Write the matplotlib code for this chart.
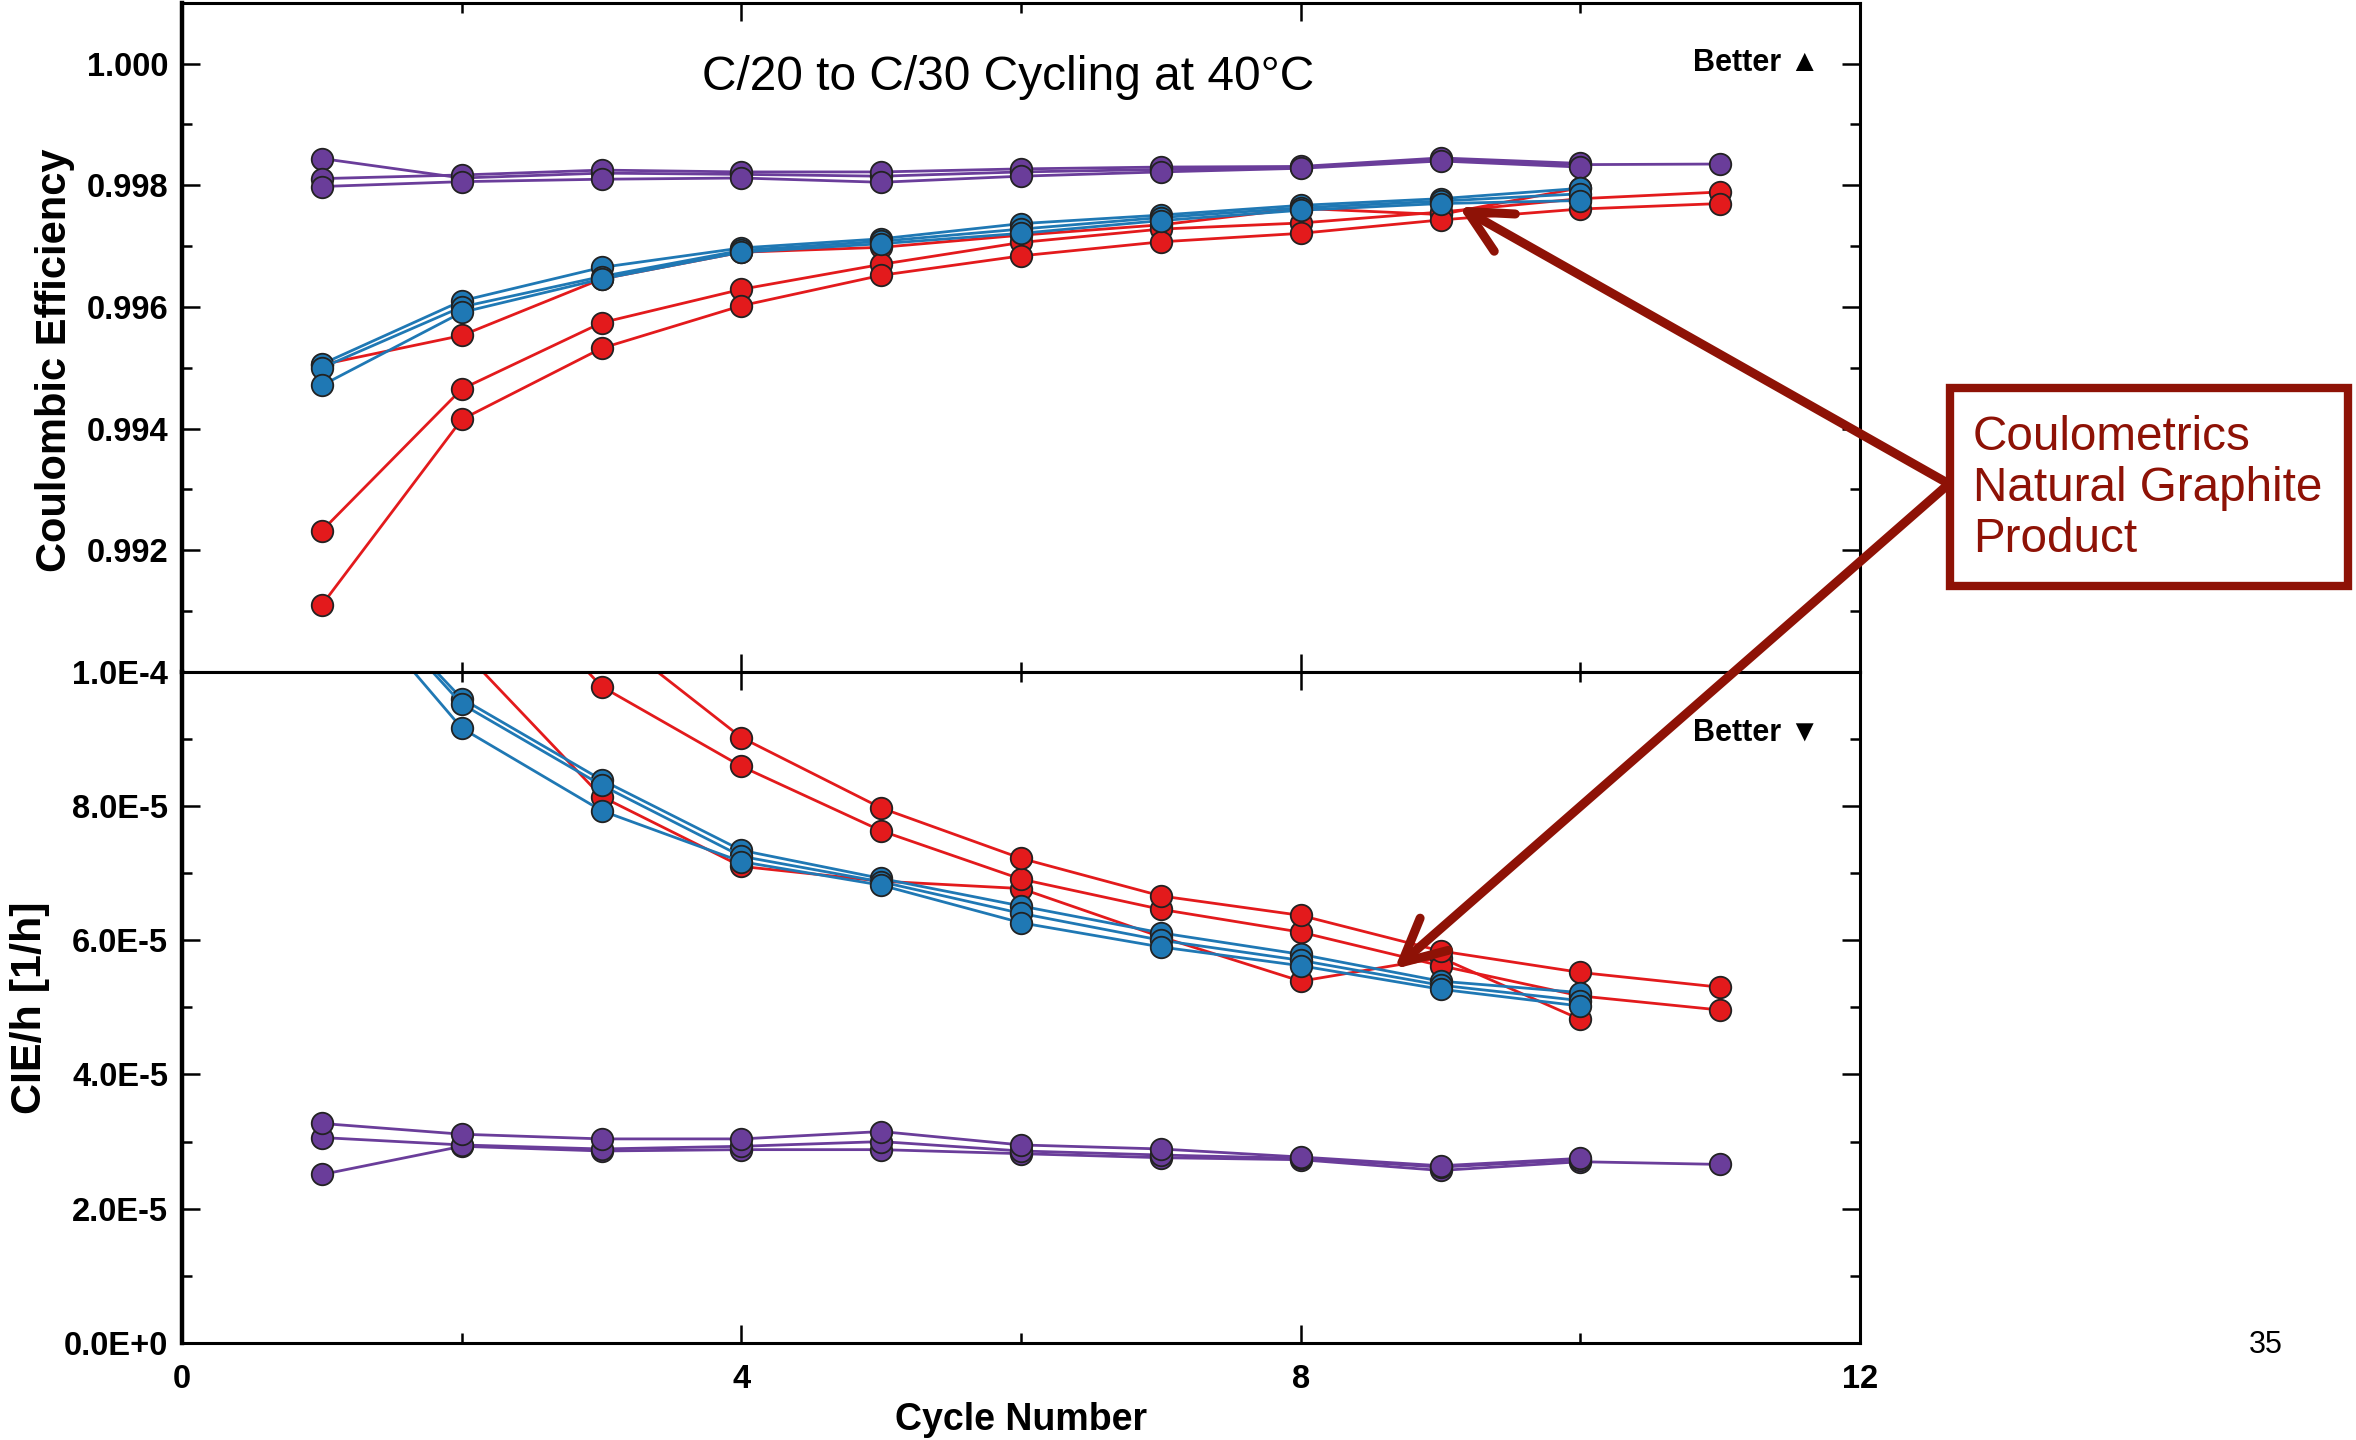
#!/usr/bin/env python3
import math

import numpy as np
from matplotlib import pyplot as plt
from matplotlib.patches import Rectangle
from matplotlib.ticker import FuncFormatter, MultipleLocator

plt.rcParams["font.family"] = ["Liberation Sans", "DejaVu Sans"]

cycles = [1, 2, 3, 4, 5, 6, 7, 8, 9, 10, 11]

# coulombic efficiency
ce_purple = [
    [0.99844, 0.99812, 0.99820, 0.99818, 0.99815, 0.99822, 0.99826, 0.99830, 0.99842, 0.99834, 0.99835],
    [0.99811, 0.99817, 0.99825, 0.99822, 0.99822, 0.99827, 0.99830, 0.99831, 0.99845, 0.99836],
    [0.99798, 0.99806, 0.99810, 0.99812, 0.99805, 0.99815, 0.99822, 0.99828, 0.99840, 0.99830],
]
ce_red = [
    [0.99505, 0.99553, 0.99646, 0.99690, 0.99698, 0.99718, 0.99735, 0.99762, 0.99752, 0.99796],
    [0.99232, 0.99465, 0.99574, 0.99629, 0.99670, 0.99706, 0.99728, 0.99738, 0.99756, 0.99778, 0.99789],
    [0.99110, 0.99415, 0.99532, 0.99602, 0.99652, 0.99684, 0.99707, 0.99721, 0.99743, 0.99761, 0.99770],
]
ce_blue = [
    [0.99506, 0.99610, 0.99665, 0.99697, 0.99712, 0.99737, 0.99751, 0.99767, 0.99778, 0.99795],
    [0.99500, 0.99600, 0.99650, 0.99693, 0.99708, 0.99728, 0.99747, 0.99763, 0.99774, 0.99786],
    [0.99471, 0.99591, 0.99646, 0.99690, 0.99704, 0.99721, 0.99742, 0.99759, 0.99770, 0.99775],
]

# CIE/h in units of 1e-5 1/h
cie_purple = [
    [2.51, 2.93, 2.86, 2.88, 2.88, 2.82, 2.76, 2.73, 2.57, 2.70, 2.66],
    [3.06, 2.95, 2.89, 2.93, 3.00, 2.86, 2.80, 2.75, 2.62, 2.73],
    [3.27, 3.11, 3.04, 3.04, 3.15, 2.95, 2.89, 2.77, 2.64, 2.75],
]
cie_red = [
    [11.3, 10.33, 8.14, 7.10, 6.88, 6.77, 6.05, 5.39, 5.74, 4.82],
    [17.5, 12.0, 9.78, 8.59, 7.63, 6.91, 6.46, 6.12, 5.62, 5.17, 4.96],
    [20.0, 13.3, 10.65, 9.02, 7.97, 7.22, 6.66, 6.37, 5.84, 5.52, 5.30],
]
cie_blue = [
    [11.8, 9.60, 8.39, 7.34, 6.92, 6.51, 6.11, 5.79, 5.39, 5.22],
    [11.8, 9.52, 8.31, 7.25, 6.87, 6.40, 6.00, 5.70, 5.33, 5.10],
    [11.6, 9.16, 7.93, 7.17, 6.82, 6.26, 5.90, 5.62, 5.27, 5.02],
]

PURPLE = "#6a3d9a"
RED = "#e31a1c"
BLUE = "#1f78b4"
DARKRED = "#8e1206"


def draw_series(ax, series, color, scale=1.0):
    for ys in series:
        ys = np.asarray(ys) * scale
        ax.plot(
            cycles[: len(ys)],
            ys,
            color=color,
            lw=2.0,
            marker="o",
            ms=15.5,
            mfc=color,
            mec="#222222",
            mew=1.3,
        )


def style_axis(ax):
    for sp in ax.spines.values():
        sp.set_linewidth(2.2)
    ax.spines["left"].set_linewidth(3.2)
    ax.tick_params(which="both", direction="in", top=True, right=True, width=1.8)
    ax.tick_params(which="major", length=13, pad=10, labelsize=23.5)
    ax.tick_params(axis="x", which="major", pad=15)
    ax.tick_params(which="minor", length=7)
    for lab in ax.get_xticklabels() + ax.get_yticklabels():
        lab.set_fontweight("bold")


def sci_label(v, _pos):
    if v == 0:
        return "0.0E+0"
    exp = math.floor(math.log10(abs(v)) + 1e-9)
    return f"{v / 10**exp:.1f}E{exp:+d}"


fig = plt.figure(figsize=(23.56, 14.4), dpi=100)
left, right = 0.0773, 0.7895
ax_top = fig.add_axes((left, 0.5335, right - left, 0.998 - 0.5335))
ax_bot = fig.add_axes((left, 0.0674, right - left, 0.5335 - 0.0674))

draw_series(ax_top, ce_purple, PURPLE)
draw_series(ax_top, ce_red, RED)
draw_series(ax_top, ce_blue, BLUE)

draw_series(ax_bot, cie_purple, PURPLE, 1e-5)
draw_series(ax_bot, cie_red, RED, 1e-5)
draw_series(ax_bot, cie_blue, BLUE, 1e-5)

for ax in (ax_top, ax_bot):
    ax.set_xlim(0, 12)
    ax.xaxis.set_major_locator(MultipleLocator(4))
    ax.xaxis.set_minor_locator(MultipleLocator(2))

ax_top.set_ylim(0.990, 1.001)
ax_top.set_yticks([0.992, 0.994, 0.996, 0.998, 1.000])
ax_top.yaxis.set_minor_locator(MultipleLocator(0.001))
ax_top.yaxis.set_major_formatter(FuncFormatter(lambda v, _p: f"{v:.3f}"))
ax_top.tick_params(labelbottom=False)

ax_bot.set_ylim(0, 1e-4)
ax_bot.yaxis.set_major_locator(MultipleLocator(2e-5))
ax_bot.yaxis.set_minor_locator(MultipleLocator(1e-5))
ax_bot.yaxis.set_major_formatter(FuncFormatter(sci_label))

style_axis(ax_top)
style_axis(ax_bot)

ax_top.set_ylabel("Coulombic Efficiency", fontsize=30, fontweight="bold")
ax_top.yaxis.set_label_coords(-0.064, 0.465)
ax_bot.set_ylabel("CIE/h [1/h]", fontsize=31, fontweight="bold")
ax_bot.yaxis.set_label_coords(-0.079, 0.50)
ax_bot.set_xlabel("Cycle Number", fontsize=27, fontweight="bold")
ax_bot.xaxis.set_label_coords(0.5, -0.088)

ax_top.text(0.492, 0.888, "C/20 to C/30 Cycling at 40\u00b0C", transform=ax_top.transAxes,
            ha="center", va="center", fontsize=34.5)
ax_top.text(0.976, 0.910, "Better \u25b2", transform=ax_top.transAxes,
            ha="right", va="center", fontsize=22, fontweight="bold")
ax_bot.text(0.976, 0.909, "Better \u25bc", transform=ax_bot.transAxes,
            ha="right", va="center", fontsize=22, fontweight="bold")

fig.text(0.9618, 0.066, "35", ha="center", va="center", fontsize=22)

# callout box and arrows
fig.add_artist(Rectangle((0.8277, 0.5931), 0.1689, 0.1375, transform=fig.transFigure,
                         fill=False, edgecolor=DARKRED, linewidth=6))
fig.text(0.8374, 0.661, "Coulometrics\nNatural Graphite\nProduct", ha="left", va="center",
         fontsize=34.3, color=DARKRED, linespacing=1.17)

start = (0.8272, 0.664)
arrow = dict(arrowstyle="->,head_length=1.4,head_width=0.7", color=DARKRED, lw=6.5,
             mutation_scale=22, shrinkA=0, shrinkB=0)
ax_top.annotate("", xy=(9.13, 0.99765), xycoords="data", xytext=start,
                textcoords="figure fraction", arrowprops=arrow, annotation_clip=False)
ax_bot.annotate("", xy=(8.67, 5.57e-5), xycoords="data", xytext=start,
                textcoords="figure fraction", arrowprops=arrow, annotation_clip=False)

fig.savefig("out.png", dpi=100)
